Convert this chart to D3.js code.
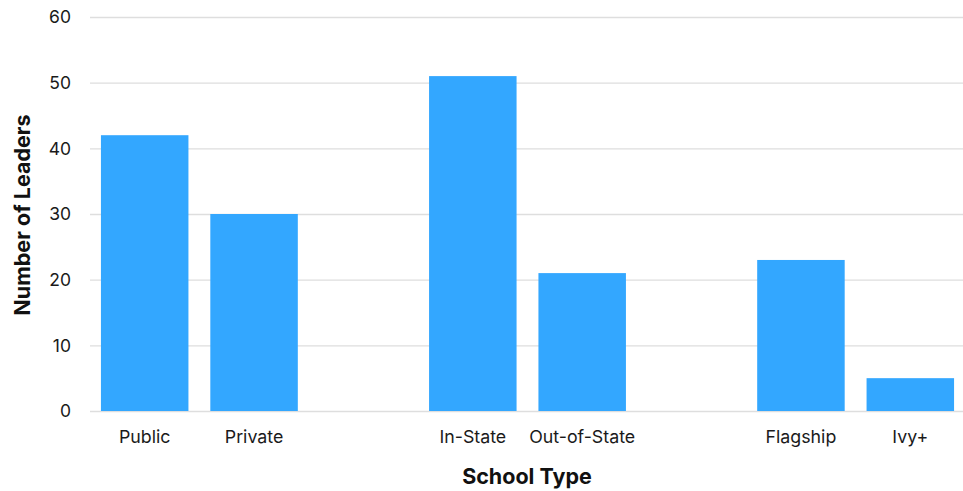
<!DOCTYPE html>
<html>
<head>
<meta charset="utf-8">
<script src="https://cdn.jsdelivr.net/npm/d3@7"></script>
<style>
  html, body { margin: 0; padding: 0; background: #fff; }
  svg { display: block; font-family: Inter, "Liberation Sans", Arial, sans-serif; }
</style>
</head>
<body>
<svg id="chart" width="963" height="491"></svg>
<script>
// School types, with blank slots separating the three groups
const categories = ["Public", "Private", "gap1", "In-State", "Out-of-State", "gap2", "Flagship", "Ivy+"];
const leaders = [42, 30, null, 51, 21, null, 23, 5];
const yTicks = [0, 10, 20, 30, 40, 50, 60];

const data = categories.map((c, i) => ({ name: c, value: leaders[i] }));

const svg = d3.select("#chart");
const plot = { left: 90, right: 965, top: 17, bottom: 411 };

const x = d3.scaleBand()
  .domain(categories)
  .range([plot.left, plot.right])
  .paddingInner(0.2)
  .paddingOuter(0.1);

const y = d3.scaleLinear()
  .domain([0, 60])
  .range([plot.bottom, plot.top]);

// Horizontal gridlines
svg.append("g")
  .selectAll("line")
  .data(yTicks)
  .join("line")
  .attr("x1", plot.left)
  .attr("x2", plot.right)
  .attr("y1", d => y(d) + 0.5)
  .attr("y2", d => y(d) + 0.5)
  .attr("stroke", "#dedede")
  .attr("stroke-width", 1.3);

// Y tick labels
svg.append("g")
  .selectAll("text")
  .data(yTicks)
  .join("text")
  .attr("x", 71)
  .attr("y", d => y(d))
  .attr("dy", "0.36em")
  .attr("text-anchor", "end")
  .attr("font-size", 17.5)
  .attr("fill", "#1a1a1a")
  .text(d => d);

// Bars
svg.append("g")
  .selectAll("rect")
  .data(data.filter(d => d.value != null))
  .join("rect")
  .attr("x", d => x(d.name))
  .attr("width", x.bandwidth())
  .attr("y", d => y(d.value))
  .attr("height", d => y(0) - y(d.value))
  .attr("fill", "#33a7ff");

// Category labels
svg.append("g")
  .selectAll("text")
  .data(data.filter(d => d.value != null))
  .join("text")
  .attr("x", d => x(d.name) + x.bandwidth() / 2)
  .attr("y", 443)
  .attr("text-anchor", "middle")
  .attr("font-size", 17.8)
  .attr("fill", "#1a1a1a")
  .text(d => d.name);

// Axis titles
svg.append("text")
  .attr("x", 527)
  .attr("y", 484)
  .attr("text-anchor", "middle")
  .attr("font-size", 21.5)
  .attr("font-weight", "bold")
  .attr("fill", "#111")
  .text("School Type");

svg.append("text")
  .attr("transform", "translate(30,215) rotate(-90)")
  .attr("text-anchor", "middle")
  .attr("font-size", 21.5)
  .attr("font-weight", "bold")
  .attr("fill", "#111")
  .text("Number of Leaders");
</script>
</body>
</html>
